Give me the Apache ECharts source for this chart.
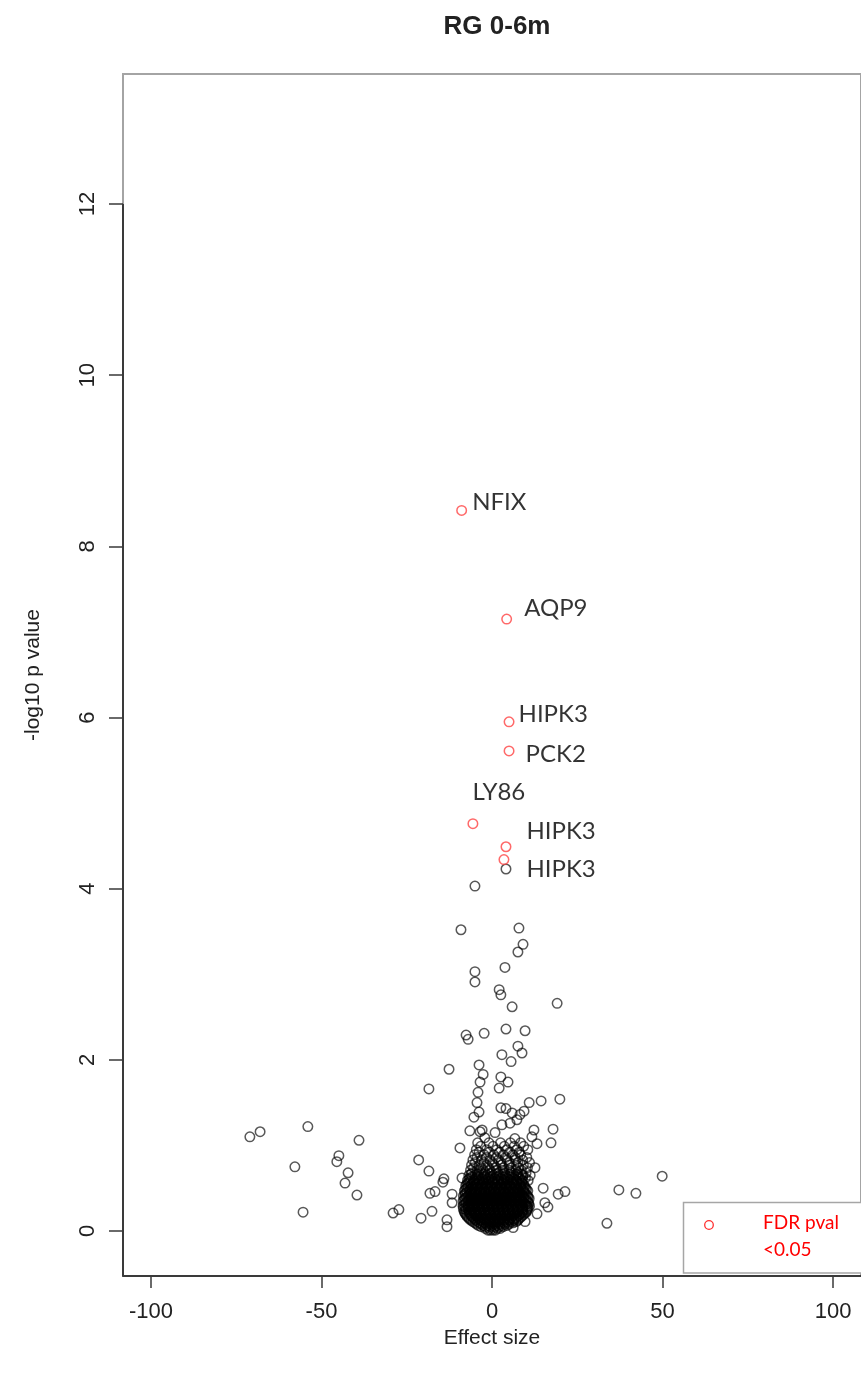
<!DOCTYPE html>
<html>
<head>
<meta charset="utf-8">
<script src="https://cdn.jsdelivr.net/npm/echarts@6/dist/echarts.min.js"></script>
<style>
  html, body { margin: 0; padding: 0; background: #fff; }
  #chart { width: 861px; height: 1378px; }
</style>
</head>
<body>
<div id="chart"></div>
<script>
// Volcano plot: effect size vs -log10 p value
const chartTitle = 'RG 0-6m';
const xName = 'Effect size';
const yName = '-log10 p value';
const xTicks = [-100, -50, 0, 50, 100];
const yTicks = [0, 2, 4, 6, 8, 10, 12];
const xRange = [-108.2, 108.2];
const yRange = [-0.526, 13.52];

// probes passing FDR < 0.05
const sigGenes = ['NFIX', 'AQP9', 'HIPK3', 'PCK2', 'LY86', 'HIPK3', 'HIPK3'];
const sigEffect = [-8.9, 4.3, 5.0, 5.0, -5.6, 4.1, 3.5];
const sigLogP = [8.42, 7.15, 5.95, 5.61, 4.76, 4.49, 4.34];

// remaining probes: tails and the upper spread
const tailPoints = [
  [-71.0, 1.10], [-68.0, 1.16], [-54.0, 1.22], [-39.0, 1.06], [-57.8, 0.75], [-44.9, 0.88],
  [-45.5, 0.81], [-42.2, 0.68], [-43.1, 0.56], [-39.6, 0.42], [-55.4, 0.22], [-29.0, 0.21],
  [-27.3, 0.25], [-21.5, 0.83], [-18.5, 0.70], [-14.1, 0.61], [-14.4, 0.57], [-18.2, 0.44],
  [-16.7, 0.46], [-11.7, 0.43], [-11.7, 0.33], [-20.8, 0.15], [-17.6, 0.23], [-13.2, 0.13],
  [-13.2, 0.05], [-9.4, 0.97], [-18.5, 1.66], [-12.6, 1.89], [-8.8, 0.62],
  [19.1, 2.66], [19.9, 1.54], [14.4, 1.52], [10.9, 1.50], [17.9, 1.19], [17.3, 1.03],
  [21.4, 0.46], [19.4, 0.43], [37.2, 0.48], [42.2, 0.44], [49.9, 0.64], [33.7, 0.09],
  [15.5, 0.33], [16.4, 0.28], [13.2, 0.20], [9.7, 0.11], [6.2, 0.04], [12.3, 1.18],
  [11.7, 1.10], [13.2, 1.02], [6.7, 1.08], [12.6, 0.74], [15.0, 0.50]
];
const upperPoints = [
  [4.1, 4.23], [-5.0, 4.03], [-9.1, 3.52], [7.9, 3.54], [9.1, 3.35], [7.6, 3.26],
  [-5.0, 3.03], [-5.0, 2.91], [3.8, 3.08], [2.1, 2.82], [2.6, 2.76], [5.9, 2.62],
  [-7.6, 2.29], [-7.0, 2.24], [-2.3, 2.31], [4.1, 2.36], [9.7, 2.34], [7.6, 2.16],
  [2.9, 2.06], [8.8, 2.08], [5.6, 1.98], [-3.8, 1.94], [-2.6, 1.83], [-3.5, 1.74],
  [2.6, 1.80], [4.7, 1.74], [2.1, 1.67], [-4.1, 1.62], [-4.4, 1.50], [2.6, 1.44],
  [4.1, 1.43], [5.9, 1.38], [9.4, 1.40], [7.3, 1.30], [-5.3, 1.33], [-3.8, 1.39],
  [-2.9, 1.18], [-6.5, 1.17], [8.2, 1.36], [2.9, 1.24], [5.3, 1.26], [-3.5, 1.16],
  [-2.1, 1.09], [0.9, 1.15], [-4.2, 1.03], [-0.9, 1.03], [2.5, 1.03], [5.4, 1.03], [8.4, 1.03]
];
// dense core around zero effect
const corePoints = [
  [-0.5, 0.01], [0.3, 0.01], [1.0, 0.01], [-1.2, 0.01],
  [-2.0, 0.03], [-0.8, 0.03], [0.5, 0.03], [1.6, 0.03], [2.4, 0.03],
  [-3.2, 0.05], [-1.9, 0.05], [-0.6, 0.05], [0.8, 0.05], [2.1, 0.05], [3.3, 0.05],
  [-4.0, 0.065], [-2.6, 0.065], [-1.2, 0.065], [0.2, 0.065], [1.6, 0.065], [3.0, 0.065], [4.4, 0.065],
  [-4.5, 0.08], [-3.1, 0.08], [-1.7, 0.08], [-0.4, 0.08], [1.0, 0.08], [2.4, 0.08], [3.8, 0.08], [5.0, 0.08],
  [-5.0, 0.095], [-3.6, 0.095], [-2.2, 0.095], [-0.8, 0.095], [0.6, 0.095], [2.0, 0.095], [3.4, 0.095], [4.8, 0.095], [6.2, 0.095],
  [-5.6, 0.11], [-4.2, 0.11], [-2.8, 0.11], [-1.3, 0.11], [0.2, 0.11], [1.6, 0.11], [3.0, 0.11], [4.5, 0.11], [5.9, 0.11], [7.1, 0.11],
  [-6.1, 0.125], [-4.7, 0.125], [-3.3, 0.125], [-1.9, 0.125], [-0.5, 0.125], [0.9, 0.125], [2.3, 0.125], [3.7, 0.125], [5.1, 0.125], [6.5, 0.125], [7.6, 0.125],
  [-6.6, 0.14], [-5.1, 0.14], [-3.7, 0.14], [-2.2, 0.14], [-0.8, 0.14], [0.7, 0.14], [2.1, 0.14], [3.6, 0.14], [5.0, 0.14], [6.4, 0.14], [7.8, 0.14],
  [-6.9, 0.155], [-5.5, 0.155], [-4.1, 0.155], [-2.7, 0.155], [-1.3, 0.155], [0.1, 0.155], [1.5, 0.155], [2.9, 0.155], [4.3, 0.155], [5.7, 0.155], [7.1, 0.155], [8.3, 0.155],
  [-7.3, 0.17], [-5.9, 0.17], [-4.4, 0.17], [-3.0, 0.17], [-1.5, 0.17], [0.0, 0.17], [1.4, 0.17], [2.9, 0.17], [4.3, 0.17], [5.8, 0.17], [7.2, 0.17], [8.6, 0.17],
  [-7.5, 0.185], [-6.1, 0.185], [-4.7, 0.185], [-3.3, 0.185], [-1.9, 0.185], [-0.5, 0.185], [0.9, 0.185], [2.3, 0.185], [3.7, 0.185], [5.1, 0.185], [6.5, 0.185], [7.9, 0.185], [9.1, 0.185],
  [-7.8, 0.20], [-6.4, 0.20], [-4.9, 0.20], [-3.5, 0.20], [-2.0, 0.20], [-0.6, 0.20], [0.9, 0.20], [2.3, 0.20], [3.8, 0.20], [5.2, 0.20], [6.7, 0.20], [8.1, 0.20], [9.4, 0.20],
  [-8.0, 0.215], [-6.6, 0.215], [-5.2, 0.215], [-3.8, 0.215], [-2.4, 0.215], [-1.0, 0.215], [0.4, 0.215], [1.8, 0.215], [3.2, 0.215], [4.6, 0.215], [6.0, 0.215], [7.4, 0.215], [8.8, 0.215], [9.9, 0.215],
  [-8.2, 0.23], [-6.8, 0.23], [-5.3, 0.23], [-3.9, 0.23], [-2.4, 0.23], [-1.0, 0.23], [0.5, 0.23], [1.9, 0.23], [3.4, 0.23], [4.8, 0.23], [6.3, 0.23], [7.7, 0.23], [9.1, 0.23], [10.2, 0.23],
  [-7.7, 0.245], [-6.3, 0.245], [-4.9, 0.245], [-3.5, 0.245], [-2.1, 0.245], [-0.7, 0.245], [0.7, 0.245], [2.1, 0.245], [3.5, 0.245], [4.9, 0.245], [6.3, 0.245], [7.7, 0.245], [9.1, 0.245], [10.3, 0.245],
  [-8.4, 0.26], [-7.0, 0.26], [-5.6, 0.26], [-4.1, 0.26], [-2.7, 0.26], [-1.2, 0.26], [0.2, 0.26], [1.7, 0.26], [3.1, 0.26], [4.6, 0.26], [6.0, 0.26], [7.5, 0.26], [8.9, 0.26], [10.4, 0.26],
  [-7.8, 0.275], [-6.4, 0.275], [-5.0, 0.275], [-3.6, 0.275], [-2.2, 0.275], [-0.8, 0.275], [0.6, 0.275], [2.0, 0.275], [3.4, 0.275], [4.8, 0.275], [6.2, 0.275], [7.6, 0.275], [9.0, 0.275], [10.6, 0.275],
  [-8.5, 0.29], [-7.1, 0.29], [-5.6, 0.29], [-4.2, 0.29], [-2.7, 0.29], [-1.3, 0.29], [0.2, 0.29], [1.6, 0.29], [3.1, 0.29], [4.5, 0.29], [6.0, 0.29], [7.4, 0.29], [8.9, 0.29], [10.3, 0.29], [11.0, 0.29],
  [-8.3, 0.305], [-6.9, 0.305], [-5.5, 0.305], [-4.1, 0.305], [-2.7, 0.305], [-1.3, 0.305], [0.1, 0.305], [1.5, 0.305], [2.9, 0.305], [4.3, 0.305], [5.7, 0.305], [7.1, 0.305], [8.5, 0.305], [9.9, 0.305],
  [-7.8, 0.32], [-6.3, 0.32], [-4.9, 0.32], [-3.4, 0.32], [-2.0, 0.32], [-0.5, 0.32], [0.9, 0.32], [2.4, 0.32], [3.8, 0.32], [5.3, 0.32], [6.7, 0.32], [8.2, 0.32], [9.6, 0.32], [10.8, 0.32],
  [-7.6, 0.335], [-6.2, 0.335], [-4.8, 0.335], [-3.4, 0.335], [-2.0, 0.335], [-0.6, 0.335], [0.8, 0.335], [2.2, 0.335], [3.6, 0.335], [5.0, 0.335], [6.4, 0.335], [7.8, 0.335], [9.2, 0.335], [10.6, 0.335],
  [-8.5, 0.35], [-7.0, 0.35], [-5.6, 0.35], [-4.1, 0.35], [-2.7, 0.35], [-1.2, 0.35], [0.2, 0.35], [1.7, 0.35], [3.1, 0.35], [4.6, 0.35], [6.0, 0.35], [7.5, 0.35], [8.9, 0.35], [10.4, 0.35],
  [-8.2, 0.365], [-6.8, 0.365], [-5.4, 0.365], [-4.0, 0.365], [-2.6, 0.365], [-1.2, 0.365], [0.2, 0.365], [1.6, 0.365], [3.0, 0.365], [4.4, 0.365], [5.8, 0.365], [7.2, 0.365], [8.6, 0.365], [10.0, 0.365],
  [-7.9, 0.38], [-6.4, 0.38], [-5.0, 0.38], [-3.5, 0.38], [-2.1, 0.38], [-0.6, 0.38], [0.8, 0.38], [2.3, 0.38], [3.7, 0.38], [5.2, 0.38], [6.6, 0.38], [8.1, 0.38], [9.5, 0.38], [10.9, 0.38],
  [-7.5, 0.395], [-6.1, 0.395], [-4.7, 0.395], [-3.3, 0.395], [-1.9, 0.395], [-0.5, 0.395], [0.9, 0.395], [2.3, 0.395], [3.7, 0.395], [5.1, 0.395], [6.5, 0.395], [7.9, 0.395], [9.3, 0.395], [10.6, 0.395],
  [-8.4, 0.41], [-7.0, 0.41], [-5.5, 0.41], [-4.1, 0.41], [-2.6, 0.41], [-1.2, 0.41], [0.3, 0.41], [1.7, 0.41], [3.2, 0.41], [4.6, 0.41], [6.1, 0.41], [7.5, 0.41], [9.0, 0.41], [10.4, 0.41],
  [-8.0, 0.425], [-6.6, 0.425], [-5.2, 0.425], [-3.8, 0.425], [-2.4, 0.425], [-1.0, 0.425], [0.4, 0.425], [1.8, 0.425], [3.2, 0.425], [4.6, 0.425], [6.0, 0.425], [7.4, 0.425], [8.8, 0.425], [10.1, 0.425],
  [-7.8, 0.44], [-6.3, 0.44], [-4.9, 0.44], [-3.4, 0.44], [-2.0, 0.44], [-0.5, 0.44], [0.9, 0.44], [2.4, 0.44], [3.8, 0.44], [5.3, 0.44], [6.7, 0.44], [8.2, 0.44], [9.6, 0.44],
  [-7.4, 0.455], [-6.0, 0.455], [-4.6, 0.455], [-3.2, 0.455], [-1.8, 0.455], [-0.4, 0.455], [1.0, 0.455], [2.4, 0.455], [3.8, 0.455], [5.2, 0.455], [6.6, 0.455], [8.0, 0.455], [9.4, 0.455],
  [-8.1, 0.47], [-6.6, 0.47], [-5.2, 0.47], [-3.7, 0.47], [-2.3, 0.47], [-0.8, 0.47], [0.6, 0.47], [2.1, 0.47], [3.5, 0.47], [5.0, 0.47], [6.4, 0.47], [7.9, 0.47], [9.3, 0.47], [10.5, 0.47],
  [-7.8, 0.485], [-6.4, 0.485], [-5.0, 0.485], [-3.6, 0.485], [-2.2, 0.485], [-0.8, 0.485], [0.6, 0.485], [2.0, 0.485], [3.4, 0.485], [4.8, 0.485], [6.2, 0.485], [7.6, 0.485], [9.0, 0.485], [10.1, 0.485],
  [-7.4, 0.50], [-6.0, 0.50], [-4.5, 0.50], [-3.1, 0.50], [-1.6, 0.50], [-0.2, 0.50], [1.3, 0.50], [2.7, 0.50], [4.2, 0.50], [5.6, 0.50], [7.1, 0.50], [8.5, 0.50], [9.8, 0.50],
  [-7.0, 0.515], [-5.6, 0.515], [-4.2, 0.515], [-2.8, 0.515], [-1.4, 0.515], [0.0, 0.515], [1.4, 0.515], [2.8, 0.515], [4.2, 0.515], [5.6, 0.515], [7.0, 0.515], [8.4, 0.515], [9.5, 0.515],
  [-7.7, 0.53], [-6.2, 0.53], [-4.8, 0.53], [-3.3, 0.53], [-1.9, 0.53], [-0.4, 0.53], [1.0, 0.53], [2.5, 0.53], [3.9, 0.53], [5.4, 0.53], [6.8, 0.53], [8.3, 0.53], [9.5, 0.53],
  [-7.4, 0.545], [-6.0, 0.545], [-4.6, 0.545], [-3.2, 0.545], [-1.8, 0.545], [-0.4, 0.545], [1.0, 0.545], [2.4, 0.545], [3.8, 0.545], [5.2, 0.545], [6.6, 0.545], [8.0, 0.545], [9.2, 0.545],
  [-7.1, 0.56], [-5.6, 0.56], [-4.2, 0.56], [-2.7, 0.56], [-1.3, 0.56], [0.2, 0.56], [1.6, 0.56], [3.1, 0.56], [4.5, 0.56], [6.0, 0.56], [7.4, 0.56], [8.8, 0.56],
  [-6.6, 0.575], [-5.2, 0.575], [-3.8, 0.575], [-2.4, 0.575], [-1.0, 0.575], [0.4, 0.575], [1.8, 0.575], [3.2, 0.575], [4.6, 0.575], [6.0, 0.575], [7.4, 0.575], [8.6, 0.575],
  [-7.2, 0.59], [-5.4, 0.59], [-3.6, 0.59], [-1.8, 0.59], [0.0, 0.59], [1.8, 0.59], [3.6, 0.59], [5.4, 0.59], [7.2, 0.59], [8.9, 0.59], [10.6, 0.59],
  [-6.8, 0.605], [-4.9, 0.605], [-3.0, 0.605], [-1.1, 0.605], [0.8, 0.605], [2.7, 0.605], [4.6, 0.605], [6.5, 0.605], [8.4, 0.605],
  [-6.4, 0.62], [-4.6, 0.62], [-2.8, 0.62], [-1.0, 0.62], [0.8, 0.62], [2.6, 0.62], [4.4, 0.62], [6.2, 0.62], [8.0, 0.62], [9.8, 0.62],
  [-5.8, 0.635], [-3.9, 0.635], [-2.0, 0.635], [-0.1, 0.635], [1.8, 0.635], [3.7, 0.635], [5.6, 0.635], [7.5, 0.635], [9.0, 0.635],
  [-6.8, 0.65], [-5.0, 0.65], [-3.2, 0.65], [-1.4, 0.65], [0.4, 0.65], [2.2, 0.65], [4.0, 0.65], [5.8, 0.65], [7.6, 0.65], [9.1, 0.65], [11.2, 0.65],
  [-6.2, 0.665], [-4.3, 0.665], [-2.4, 0.665], [-0.5, 0.665], [1.4, 0.665], [3.3, 0.665], [5.2, 0.665], [7.1, 0.665], [8.7, 0.665],
  [-5.8, 0.68], [-3.9, 0.68], [-2.0, 0.68], [-0.1, 0.68], [1.8, 0.68], [3.7, 0.68], [5.6, 0.68], [7.5, 0.68], [10.0, 0.68],
  [-6.3, 0.71], [-4.4, 0.71], [-2.5, 0.71], [-0.6, 0.71], [1.3, 0.71], [3.2, 0.71], [5.1, 0.71], [7.0, 0.71], [8.6, 0.71],
  [-5.4, 0.74], [-3.2, 0.74], [-1.0, 0.74], [1.2, 0.74], [3.4, 0.74], [5.6, 0.74], [7.8, 0.74], [10.4, 0.74],
  [-6.0, 0.77], [-3.8, 0.77], [-1.6, 0.77], [0.6, 0.77], [2.8, 0.77], [5.0, 0.77], [7.2, 0.77], [9.2, 0.77],
  [-4.9, 0.80], [-2.4, 0.80], [0.1, 0.80], [2.6, 0.80], [5.1, 0.80], [7.6, 0.80], [11.0, 0.80],
  [-5.6, 0.83], [-3.1, 0.83], [-0.6, 0.83], [1.9, 0.83], [4.4, 0.83], [6.9, 0.83], [9.0, 0.83],
  [-4.4, 0.86], [-1.6, 0.86], [1.2, 0.86], [4.0, 0.86], [6.8, 0.86], [10.2, 0.86],
  [-5.1, 0.89], [-2.3, 0.89], [0.5, 0.89], [3.3, 0.89], [6.1, 0.89], [8.4, 0.89],
  [-3.8, 0.92], [-0.8, 0.92], [2.2, 0.92], [5.2, 0.92], [8.0, 0.92],
  [-4.6, 0.95], [-1.6, 0.95], [1.4, 0.95], [4.4, 0.95], [7.3, 0.95], [10.5, 0.95],
  [-3.3, 0.99], [0.3, 0.99], [3.6, 0.99], [6.5, 0.99], [9.3, 0.99]
];

// text placement of the gene names next to their points (px)
const labelOffsets = [[0, -8], [7, -11], [-1, -8], [6, 3], [-11, -31.5], [10, -15], [12, 10]];

const chart = echarts.init(document.getElementById('chart'), null, { renderer: 'canvas' });

const sansFont = 'Liberation Sans, Arial, sans-serif';
const calloutFont = 'Lato, Carlito, sans-serif';

const sigData = sigEffect.map((x, i) => ({
  value: [x, sigLogP[i]],
  name: sigGenes[i],
  label: { offset: labelOffsets[i] }
}));

chart.setOption({
  animation: false,
  backgroundColor: '#fff',
  title: {
    text: chartTitle,
    left: 492,
    top: 9,
    textAlign: 'center',
    textStyle: { fontFamily: sansFont, fontWeight: 'bold', fontSize: 26, color: '#222' }
  },
  grid: {
    left: 123, right: 0, top: 74, bottom: 102,
    show: true, borderColor: '#a4a4a4', borderWidth: 2, backgroundColor: '#fff'
  },
  xAxis: {
    type: 'value',
    min: xRange[0], max: xRange[1],
    name: xName,
    nameLocation: 'middle',
    nameGap: 50,
    nameTextStyle: { fontFamily: sansFont, fontSize: 21, color: '#222' },
    axisLine: { show: true, onZero: false, lineStyle: { color: '#3a3a3a', width: 2 } },
    axisTick: { show: true, length: 12, customValues: xTicks, lineStyle: { color: '#3a3a3a', width: 1.5 } },
    axisLabel: { show: true, customValues: xTicks, margin: 25, fontFamily: sansFont, fontSize: 22, color: '#222' },
    splitLine: { show: false }
  },
  yAxis: {
    type: 'value',
    min: yRange[0], max: yRange[1],
    name: yName,
    nameLocation: 'middle',
    nameGap: 79,
    nameRotate: 90,
    nameTextStyle: { fontFamily: sansFont, fontSize: 21, color: '#222' },
    axisLine: { show: false, onZero: false },
    axisTick: { show: true, length: 14, customValues: yTicks, lineStyle: { color: '#3a3a3a', width: 1.5 } },
    axisLabel: { show: true, customValues: yTicks, rotate: 90, margin: 24, fontFamily: sansFont, fontSize: 22, color: '#222' },
    splitLine: { show: false }
  },
  series: [
    {
      type: 'scatter',
      name: 'probes',
      data: tailPoints.concat(upperPoints, corePoints),
      symbol: 'circle',
      symbolSize: 9.5,
      silent: true,
      itemStyle: { color: 'rgba(0,0,0,0)', borderColor: 'rgba(0,0,0,0.82)', borderWidth: 1.5 },
      emphasis: { disabled: true },
      markLine: {
        silent: true,
        symbol: ['none', 'none'],
        label: { show: false },
        lineStyle: { color: '#3a3a3a', width: 2, type: 'solid' },
        data: [[{ coord: [xRange[0], yRange[0]] }, { coord: [xRange[0], yTicks[yTicks.length - 1]] }]]
      }
    },
    {
      type: 'scatter',
      name: 'FDR pval <0.05',
      data: sigData,
      symbol: 'circle',
      symbolSize: 9.5,
      silent: true,
      z: 3,
      itemStyle: { color: 'rgba(0,0,0,0)', borderColor: '#ff4444', borderWidth: 1.5 },
      emphasis: { disabled: true },
      label: {
        show: true,
        position: 'right',
        distance: 5,
        formatter: '{b}',
        fontFamily: calloutFont,
        fontSize: 24,
        color: '#000'
      }
    }
  ],
  graphic: [
    {
      type: 'rect', z: 100,
      shape: { x: 683.5, y: 1202.5, width: 180, height: 70.5 },
      style: { fill: '#fff', stroke: '#a6a6a6', lineWidth: 1.5 }
    },
    {
      type: 'circle', z: 101,
      shape: { cx: 709, cy: 1225, r: 4.3 },
      style: { fill: 'none', stroke: '#ff3030', lineWidth: 1.3 }
    },
    {
      type: 'text', z: 101, x: 763, y: 1223,
      style: { text: 'FDR pval', fill: '#ff0000', fontFamily: calloutFont, fontSize: 19, verticalAlign: 'middle' }
    },
    {
      type: 'text', z: 101, x: 763, y: 1250,
      style: { text: '<0.05', fill: '#ff0000', fontFamily: calloutFont, fontSize: 19, verticalAlign: 'middle' }
    }
  ]
});
</script>
</body>
</html>
